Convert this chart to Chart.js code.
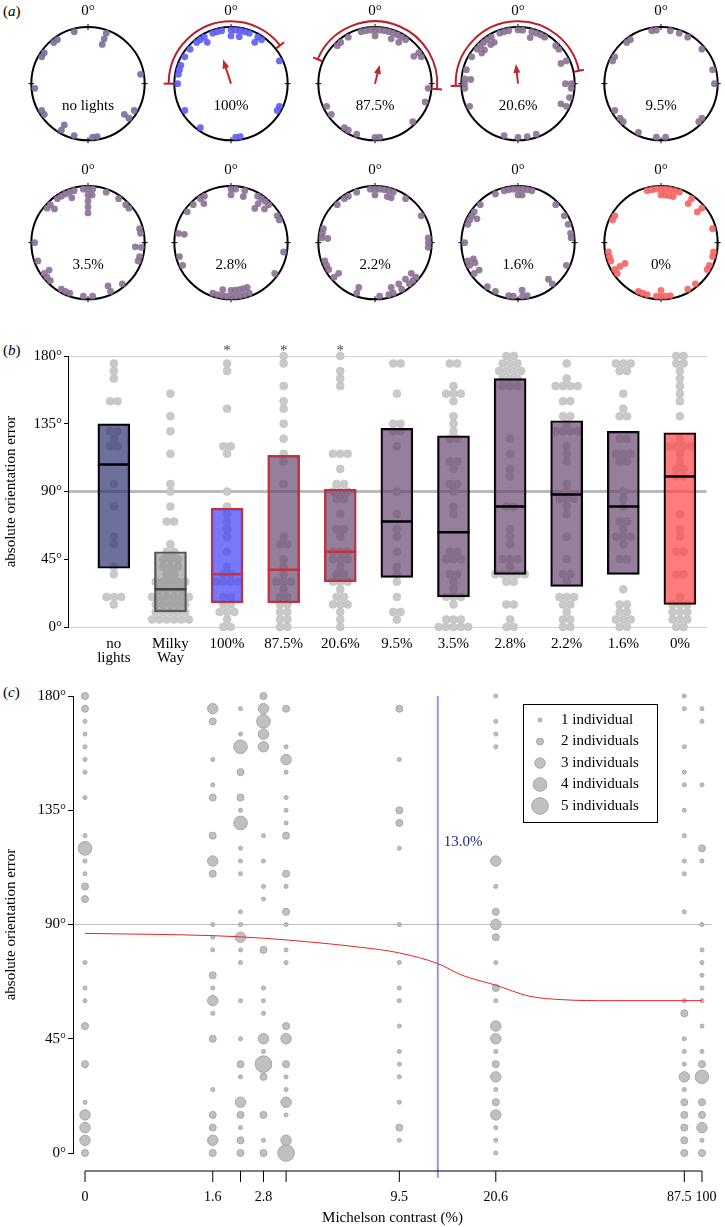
<!DOCTYPE html>
<html>
<head>
<meta charset="utf-8">
<script src="https://cdn.jsdelivr.net/npm/chart.js@4.4.1/dist/chart.umd.min.js"></script>
<style>
  body { margin: 0; background: #fff; width: 725px; height: 1227px; position: relative; overflow: hidden; font-family: 'Liberation Serif', serif; }
  canvas { position: absolute; }
  .lab { position: absolute; font-size: 15px; color: #000; }
</style>
</head>
<body>
<div class="lab" style="left:3px;top:3px">(<i>a</i>)</div>
<div class="lab" style="left:3px;top:342px">(<i>b</i>)</div>
<div class="lab" style="left:3px;top:684px">(<i>c</i>)</div>
<canvas id="boxChart" width="725" height="340" style="left:0;top:330px"></canvas>
<canvas id="contrastChart" width="725" height="547" style="left:0;top:680px"></canvas>
<script>
// Groups shown in panel (a), and the contrast of each (null = no lights)
var groups = ['no lights', '100%', '87.5%', '20.6%', '9.5%', '3.5%', '2.8%', '2.2%', '1.6%', '0%'];
var groupContrast = [null, 100, 87.5, 20.6, 9.5, 3.5, 2.8, 2.2, 1.6, 0];

// Heading of each beetle, degrees clockwise from 0°
var headNoLights = [-15, 20, 20, 20, -35, -40, -55, -60, 80, -95, -120, -125, 120, 130, 130, -150, -150, -165, 170, 175];
var head100 = [0, 0, 5, -10, 10, 10, -15, 15, -20, 20, -30, -30, 30, 30, -35, 35, -40, -50, -60, 65, -70, -75, -80, -90, 115, 120, -120, -145, 170, 175];
var head875 = [0, 0, 5, -5, 10, -10, 15, -15, 20, 20, 25, 30, 30, -30, 35, -40, -45, 55, 55, 60, 95, 110, -115, -125, 135, -145, -150, -160, 175, 180];
var head206 = [0, 5, -10, 15, -15, 15, 20, -20, 25, -30, -30, 30, -35, -35, -40, -45, -45, 45, -50, -50, 50, -60, 65, 65, -75, -85, -85, 90, -90, 90, -95, 95, 105, 115, 115, -115, 160, -165, 170, 180];
var head95 = [-5, 10, -10, 20, 30, -35, -40, 50, -60, -65, 75, 90, -120, 130, -130, -135, 135, -155, 175, -175];
var head35 = [0, 0, 0, 0, 0, 5, -5, 5, -15, -20, -20, 20, -25, -30, 35, -35, -45, -45, 45, -50, 50, 75, 80, -90, 95, 95, 105, -110, 110, -125, -125, -130, -135, 140, -150, -155, 155, 155, -160, 175, -175];
var head28 = [0, 0, 5, 15, 15, -30, 30, -35, -35, 35, 35, 35, 40, 45, 45, -45, -55, 60, 65, -80, -80, 100, -105, -115, 125, -160, 160, 160, -165, 165, 165, -170, -170, 170, 170, -175, 175, 175, 180, 180];
var head22 = [0, 0, 5, -5, 10, 15, 15, 20, 20, -20, -30, -35, 35, -45, 60, -75, -80, 85, -85, -85, 90, 95, -110, -115, -120, 130, 130, -130, -130, 135, 140, 140, 150, 150, 160, 160, -160, -160, 165, 175];
var head16 = [0, 0, 5, -5, 5, 10, -10, 15, -15, -25, -45, 45, -55, 60, -60, -60, -65, 70, -70, 80, 85, -90, -110, -110, -115, -115, 115, -125, -125, 140, 140, -145, -155, -170, 170, 175, -175, 175];
var head0 = [0, 0, 5, -5, 5, 10, -10, 10, 15, -15, 15, 20, 35, 35, 50, 50, -60, -65, 75, 100, -100, 105, -105, -110, 115, 120, -120, -120, -120, -125, 140, 150, -155, -160, -165, 170, 175, -175, 180, 180];
var headings = [headNoLights, head100, head875, head206, head95, head35, head28, head22, head16, head0];

// Milky Way group only appears in panel (b): absolute errors
var errMilkyWay = [155, 140, 130, 115, 95, 90, 80, 70, 70, 55, 50, 50, 45, 45, 45, 40, 40, 40, 35, 35,
  30, 30, 30, 30, 30, 25, 25, 25, 25, 20, 20, 20, 20, 20, 20, 15, 15, 15, 15, 15, 10, 10, 10, 10, 10, 5, 5, 5, 5, 5, 5];

// Mean vector and its confidence arc (only where significant)
var meanDir = [null, -18, 14, -6, null, null, null, null, null, null];
var meanLen = [null, 0.45, 0.34, 0.35, null, null, null, null, null, null];
var ciLow = [null, -90, -67, -92, null, null, null, null, null, null];
var ciHigh = [null, 52, 95, 78, null, null, null, null, null, null];

// Panel (b) categories and box statistics
var boxLabels = [['no', 'lights'], ['Milky', 'Way'], '100%', '87.5%', '20.6%', '9.5%', '3.5%', '2.8%', '2.2%', '1.6%', '0%'];
var boxQ1 = [39, 10, 16, 16, 30, 33, 20, 35, 27, 35, 15];
var boxMedian = [108, 25, 35, 38, 50, 70, 63, 80, 88, 80, 100];
var boxQ3 = [135, 50, 79, 114, 91.5, 132, 127, 165, 137, 130, 129];
var sigMarks = ['', '', '*', '*', '*', '', '', '', '', '', ''];

// Panel (c) axis ticks, fitted curve and threshold
var contrastTicks = [0, 1.6, 2.2, 2.8, 3.5, 9.5, 20.6, 87.5, 100];
var contrastTickLabels = ['0', '1.6', '', '2.8', '', '9.5', '20.6', '87.5', '100'];
var curveContrast = [0, 1.6, 2.8, 4.5, 6.9, 9.5, 13, 15.8, 20.6, 26.7, 34.4, 50, 100];
var curveError = [86.5, 85.6, 84.6, 83, 81, 78.8, 74.6, 70, 66.1, 61.8, 60.4, 60, 60];
var thresholdContrast = 13.0;
var legendCounts = [1, 2, 3, 4, 5];
var bubbleRadius = [2, 3.5, 5.2, 6.8, 8.3];

// Colours
var mauveDot = 'rgba(138,112,148,0.9)';
var mauveBox = 'rgba(100,66,108,0.68)';
var dotColors = ['rgba(112,112,160,0.9)', 'rgba(92,92,245,0.9)', mauveDot, mauveDot, mauveDot,
  mauveDot, mauveDot, mauveDot, mauveDot, 'rgba(245,100,100,0.9)'];
var boxFill = ['rgba(50,50,112,0.7)', 'rgba(140,140,140,0.6)', 'rgba(62,62,245,0.7)', mauveBox, mauveBox,
  mauveBox, mauveBox, mauveBox, mauveBox, mauveBox, 'rgba(255,68,68,0.7)'];
var boxEdge = ['#000', '#555', '#c8323c', '#c8323c', '#c8323c', '#000', '#000', '#000', '#000', '#000', '#000'];
var medianColor = ['#000', '#444', '#c8323c', '#c8323c', '#c8323c', '#000', '#000', '#000', '#000', '#000', '#000'];

var serif = "'Liberation Serif', 'Times New Roman', serif";
Chart.defaults.font.family = serif;
Chart.defaults.color = '#000';

function absErrors(list) {
  return list.map(function (h) { return Math.abs(h); });
}
function tOf(c) { return Math.log(c + 1); }

// ---------- panel (a): circular plots ----------
function circleDeco(gi) {
  return {
    id: 'circle' + gi,
    beforeDatasetsDraw: function (chart) {
      var ctx = chart.ctx, x = chart.scales.x, y = chart.scales.y;
      var cx = x.getPixelForValue(0), cy = y.getPixelForValue(0);
      var R = x.getPixelForValue(60) - cx;
      ctx.save();
      ctx.strokeStyle = '#000';
      ctx.lineWidth = 2;
      ctx.beginPath(); ctx.arc(cx, cy, R, 0, 2 * Math.PI); ctx.stroke();
      ctx.lineWidth = 1;
      [0, 90, 180, 270].forEach(function (d) {
        var a = d * Math.PI / 180;
        ctx.beginPath();
        ctx.moveTo(cx + (R - 3) * Math.sin(a), cy - (R - 3) * Math.cos(a));
        ctx.lineTo(cx + (R + 3) * Math.sin(a), cy - (R + 3) * Math.cos(a));
        ctx.stroke();
      });
      ctx.restore();
    },
    afterDatasetsDraw: function (chart) {
      var ctx = chart.ctx, x = chart.scales.x, y = chart.scales.y;
      var cx = x.getPixelForValue(0), cy = y.getPixelForValue(0);
      var R = x.getPixelForValue(60) - cx;
      ctx.save();
      ctx.fillStyle = '#000';
      ctx.font = '15px ' + serif;
      ctx.textAlign = 'center';
      ctx.textBaseline = 'middle';
      ctx.fillText('0°', cx, cy - R - 16);
      ctx.fillText(groups[gi], cx, cy + 22);
      if (meanDir[gi] !== null) {
        var red = '#c0282f';
        var a = meanDir[gi] * Math.PI / 180, L = meanLen[gi] * R;
        var tx = cx + L * Math.sin(a), ty = cy - L * Math.cos(a);
        ctx.strokeStyle = red; ctx.fillStyle = red; ctx.lineWidth = 2;
        ctx.beginPath(); ctx.moveTo(cx, cy); ctx.lineTo(cx + (L - 6) * Math.sin(a), cy - (L - 6) * Math.cos(a)); ctx.stroke();
        var px = Math.cos(a), py = Math.sin(a);
        ctx.beginPath();
        ctx.moveTo(tx, ty);
        ctx.lineTo(cx + (L - 9) * Math.sin(a) + 3.5 * px, cy - (L - 9) * Math.cos(a) + 3.5 * py);
        ctx.lineTo(cx + (L - 9) * Math.sin(a) - 3.5 * px, cy - (L - 9) * Math.cos(a) - 3.5 * py);
        ctx.closePath(); ctx.fill();
        var Ra = R * 1.1;
        var a0 = (ciLow[gi] - 90) * Math.PI / 180, a1 = (ciHigh[gi] - 90) * Math.PI / 180;
        ctx.strokeStyle = '#b8202c';
        ctx.beginPath(); ctx.arc(cx, cy, Ra, a0, a1); ctx.stroke();
        [a0, a1].forEach(function (e) {
          ctx.beginPath();
          ctx.moveTo(cx + (Ra - 5) * Math.cos(e), cy + (Ra - 5) * Math.sin(e));
          ctx.lineTo(cx + (Ra + 5) * Math.cos(e), cy + (Ra + 5) * Math.sin(e));
          ctx.stroke();
        });
      }
      ctx.restore();
    }
  };
}

groups.forEach(function (g, gi) {
  var col = gi % 5, row = Math.floor(gi / 5);
  var cx = 88 + col * 143.3, cy = row ? 243 : 84;
  var cv = document.createElement('canvas');
  cv.width = 144; cv.height = 162;
  cv.style.left = (cx - 72) + 'px';
  cv.style.top = (cy - 88) + 'px';
  document.body.appendChild(cv);
  // beetles with the same heading stack inwards from the rim
  var seen = {};
  var pts = headings[gi].map(function (h) {
    var key = h === -180 ? 180 : h;
    seen[key] = seen[key] === undefined ? 0 : seen[key] + 1;
    var r = 56.5 - seen[key] * 6.3, a = h * Math.PI / 180;
    return { x: r * Math.sin(a), y: r * Math.cos(a) };
  });
  new Chart(cv, {
    type: 'scatter',
    data: { datasets: [{ data: pts, pointRadius: 3.4, pointBackgroundColor: dotColors[gi], pointBorderWidth: 0 }] },
    options: {
      responsive: false, animation: false, devicePixelRatio: 1,
      layout: { padding: 0 },
      plugins: { legend: { display: false }, tooltip: { enabled: false } },
      scales: { x: { display: false, min: -72, max: 72 }, y: { display: false, min: -74, max: 88 } }
    },
    plugins: [circleDeco(gi)]
  });
});

// ---------- panel (b): boxes with dot strips ----------
var boxErrors = [absErrors(headNoLights), errMilkyWay].concat(headings.slice(1).map(absErrors));

function swarm(vals, i) {
  var counts = {};
  vals.forEach(function (v) { counts[v] = (counts[v] || 0) + 1; });
  var pts = [];
  Object.keys(counts).forEach(function (k) {
    var n = counts[k];
    for (var j = 0; j < n; j++) pts.push({ x: i + (j - (n - 1) / 2) * 0.13, y: +k });
  });
  return pts;
}

var swarmPts = [];
boxErrors.forEach(function (vals, i) { swarmPts = swarmPts.concat(swarm(vals, i)); });

var sigPlugin = {
  id: 'sig',
  afterDraw: function (chart) {
    var ctx = chart.ctx, x = chart.scales.x;
    ctx.save();
    ctx.fillStyle = '#444';
    ctx.font = '15px ' + serif;
    ctx.textAlign = 'center';
    ctx.textBaseline = 'middle';
    sigMarks.forEach(function (m, i) {
      if (m) ctx.fillText(m, x.getPixelForValue(i), chart.chartArea.top - 5);
    });
    ctx.restore();
  }
};

new Chart(document.getElementById('boxChart'), {
  type: 'bar',
  data: {
    datasets: [
      {
        type: 'scatter', order: 0,
        data: boxMedian.map(function (m, i) { return { x: i, y: m }; }),
        pointStyle: 'line', pointRadius: 16, pointBorderWidth: 2.5, pointBorderColor: medianColor
      },
      {
        type: 'bar', order: 1,
        data: boxQ1.map(function (q, i) { return { x: i, y: [q, boxQ3[i]] }; }),
        backgroundColor: boxFill, borderColor: boxEdge, borderWidth: 1.8,
        borderSkipped: false, barThickness: 32
      },
      {
        type: 'scatter', order: 2, clip: false,
        data: swarmPts,
        pointRadius: 4, pointBackgroundColor: '#c9c9c9', pointBorderColor: '#bcbcbc', pointBorderWidth: 0.5
      }
    ]
  },
  options: {
    responsive: false, animation: false, devicePixelRatio: 1,
    layout: { padding: { top: 26, right: 3, left: 0, bottom: 0 } },
    plugins: { legend: { display: false }, tooltip: { enabled: false } },
    scales: {
      x: {
        type: 'linear', min: -0.81, max: 10.47, offset: false,
        afterBuildTicks: function (s) { s.ticks = boxLabels.map(function (l, i) { return { value: i }; }); },
        afterFit: function (s) { s.height = 43; s.paddingLeft = 0; s.paddingRight = 0; },
        grid: { display: false, offset: false },
        border: { display: false },
        ticks: {
          autoSkip: false, maxRotation: 0, padding: 2,
          font: { size: 15, lineHeight: 0.92 },
          callback: function (v) { return boxLabels[Math.round(v)]; }
        }
      },
      y: {
        min: 0, max: 180,
        afterBuildTicks: function (s) { s.ticks = [0, 45, 90, 135, 180].map(function (v) { return { value: v }; }); },
        afterFit: function (s) { s.width = 68; },
        grid: {
          color: function (c) { var v = c.tick.value; return v === 90 ? 'rgba(175,175,175,0.85)' : (v === 0 || v === 180 ? '#d2d2d2' : 'rgba(0,0,0,0)'); },
          lineWidth: function (c) { return c.tick.value === 90 ? 3 : 1; },
          tickColor: '#000', tickLength: 4, tickWidth: 1
        },
        border: { display: true, color: '#000', width: 1 },
        ticks: { padding: 2, font: { size: 15 }, callback: function (v) { return v + '°'; } },
        title: { display: true, text: 'absolute orientation error', font: { size: 15 }, padding: { top: 2, bottom: 0 } }
      }
    }
  },
  plugins: [sigPlugin]
});

// ---------- panel (c): error against contrast ----------
var bubbles = [];
for (var gi = 1; gi < groups.length; gi++) {
  var counts = {};
  absErrors(headings[gi]).forEach(function (v) { counts[v] = (counts[v] || 0) + 1; });
  Object.keys(counts).forEach(function (k) {
    var n = Math.min(counts[k], bubbleRadius.length);
    bubbles.push({ x: tOf(groupContrast[gi]), y: +k, r: bubbleRadius[n - 1] });
  });
}

// crowded labels at the top end are pushed apart a little
var labelNudge = [0, 0, 0, 0, 0, 0, 0, -5, 4];

var contrastDeco = {
  id: 'contrastDeco',
  beforeDatasetsDraw: function (chart) {
    var ctx = chart.ctx, x = chart.scales.x, y = chart.scales.y, area = chart.chartArea;
    var lx = x.getPixelForValue(tOf(thresholdContrast));
    ctx.save();
    ctx.strokeStyle = 'rgba(130,130,225,0.85)';
    ctx.lineWidth = 2;
    ctx.beginPath(); ctx.moveTo(lx, area.top); ctx.lineTo(lx, area.bottom + 25); ctx.stroke();
    ctx.fillStyle = '#26268c';
    ctx.font = '15px ' + serif;
    ctx.textBaseline = 'middle';
    ctx.fillText(thresholdContrast.toFixed(1) + '%', lx + 6, y.getPixelForValue(122.5));
    ctx.restore();
  },
  afterDraw: function (chart) {
    var ctx = chart.ctx, x = chart.scales.x, area = chart.chartArea;
    var ay = area.bottom + 18;
    ctx.save();
    ctx.strokeStyle = '#000';
    ctx.lineWidth = 1;
    ctx.beginPath();
    ctx.moveTo(x.getPixelForValue(tOf(contrastTicks[0])), ay);
    ctx.lineTo(x.getPixelForValue(tOf(contrastTicks[contrastTicks.length - 1])), ay);
    ctx.stroke();
    ctx.fillStyle = '#000';
    ctx.font = '14px ' + serif;
    ctx.textAlign = 'center';
    ctx.textBaseline = 'middle';
    contrastTicks.forEach(function (c, i) {
      var px = x.getPixelForValue(tOf(c));
      ctx.beginPath(); ctx.moveTo(px, ay); ctx.lineTo(px, ay + 11); ctx.stroke();
      ctx.fillText(contrastTickLabels[i], px + labelNudge[i], area.bottom + 44);
    });
    // legend
    var lx = 523, ly = 24, lw = 134, lh = 118;
    ctx.fillStyle = '#fff';
    ctx.fillRect(lx, ly, lw, lh);
    ctx.strokeRect(lx + 0.5, ly + 0.5, lw, lh);
    ctx.font = '15px ' + serif;
    ctx.textAlign = 'left';
    legendCounts.forEach(function (n, i) {
      var ey = ly + 16 + i * 21.5;
      ctx.beginPath(); ctx.arc(lx + 17, ey, bubbleRadius[n - 1], 0, 2 * Math.PI);
      ctx.fillStyle = 'rgba(185,185,185,0.9)'; ctx.fill();
      ctx.strokeStyle = '#a6a6a6'; ctx.stroke();
      ctx.fillStyle = '#000';
      ctx.fillText(n + (n === 1 ? ' individual' : ' individuals'), lx + 38, ey);
    });
    ctx.restore();
  }
};

new Chart(document.getElementById('contrastChart'), {
  type: 'bubble',
  data: {
    datasets: [
      {
        type: 'line', order: 0,
        data: curveContrast.map(function (c, i) { return { x: tOf(c), y: curveError[i] }; }),
        borderColor: '#e3262c', borderWidth: 1, pointRadius: 0, cubicInterpolationMode: 'monotone', fill: false
      },
      {
        type: 'bubble', order: 1, clip: false,
        data: bubbles,
        backgroundColor: 'rgba(185,185,185,0.9)', borderColor: '#a6a6a6', borderWidth: 1
      }
    ]
  },
  options: {
    responsive: false, animation: false, devicePixelRatio: 1,
    layout: { padding: { top: 16, right: 13, left: 0, bottom: 0 } },
    plugins: { legend: { display: false }, tooltip: { enabled: false } },
    scales: {
      x: {
        type: 'linear', min: -0.0898, max: 4.69, offset: false,
        afterBuildTicks: function (s) { s.ticks = contrastTicks.map(function (c) { return { value: tOf(c) }; }); },
        afterFit: function (s) { s.height = 74; s.paddingLeft = 0; s.paddingRight = 0; },
        grid: { display: false },
        border: { display: false },
        ticks: { display: false },
        title: { display: true, text: 'Michelson contrast (%)', font: { size: 15 }, padding: { top: 0, bottom: 0 } }
      },
      y: {
        min: 0, max: 180,
        afterBuildTicks: function (s) { s.ticks = [0, 45, 90, 135, 180].map(function (v) { return { value: v }; }); },
        afterFit: function (s) { s.width = 73; },
        grid: {
          color: function (c) { return c.tick.value === 90 ? '#bdbdbd' : 'rgba(0,0,0,0)'; },
          tickColor: '#000', tickLength: 5, tickWidth: 1
        },
        border: { display: true, color: '#000', width: 1 },
        ticks: { padding: 2, font: { size: 15 }, callback: function (v) { return v + '°'; } },
        title: { display: true, text: 'absolute orientation error', font: { size: 15 }, padding: { top: 2, bottom: 0 } }
      }
    }
  },
  plugins: [contrastDeco]
});
</script>
</body>
</html>
